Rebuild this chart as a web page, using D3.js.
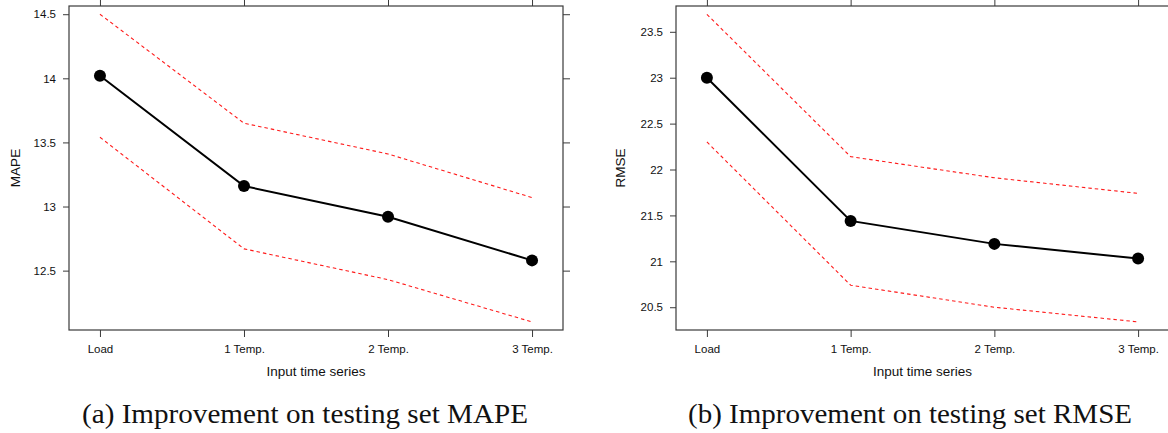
<!DOCTYPE html>
<html>
<head>
<meta charset="utf-8">
<script src="https://cdn.jsdelivr.net/npm/d3@7"></script>
<style>
	body { margin: 0; background: #fff; }
	svg { display: block; }
</style>
</head>
<body>
<div class="chart"></div>
<script>
// values
const categories = ['Load', '1 Temp.', '2 Temp.', '3 Temp.']

const mapeMean = [14.02, 13.16, 12.92, 12.58]
const mapeUpper = [14.50, 13.65, 13.41, 13.07]
const mapeLower = [13.54, 12.67, 12.43, 12.10]
const mapeTicks = [12.5, 13, 13.5, 14, 14.5]

const rmseMean = [23.00, 21.44, 21.19, 21.03]
const rmseUpper = [23.69, 22.14, 21.91, 21.74]
const rmseLower = [22.30, 20.74, 20.50, 20.34]
const rmseTicks = [20.5, 21, 21.5, 22, 22.5, 23, 23.5]

const W = 1168
const H = 433

var svg = d3.select('.chart')
	.append('svg')
	.attr('width', W)
	.attr('height', H)

function panel(opts) {
	const left = opts.left, right = opts.right
	const top = 6, bottom = 330
	const frame = '#3a3a3a'

	var g = svg.append('g')

	var x = d3.scalePoint()
		.domain(categories)
		.range([left, right])
		.padding(0.215)

	var y = d3.scaleLinear()
		.domain(opts.domain)
		.range([bottom, top])

	// ticks on every side, labels only left and bottom
	var yLeft = d3.axisLeft(y).tickValues(opts.ticks).tickSize(6).tickPadding(7).tickFormat(d3.format('~g'))
	var yRight = d3.axisRight(y).tickValues(opts.ticks).tickSize(7).tickFormat('')
	var xBottom = d3.axisBottom(x).tickSize(7).tickPadding(8)
	var xTop = d3.axisTop(x).tickSize(8).tickFormat('')

	g.append('g').attr('transform', `translate(${left},0)`).call(yLeft)
	g.append('g').attr('transform', `translate(${right},0)`).call(yRight)
	g.append('g').attr('transform', `translate(0,${bottom})`).call(xBottom)
	g.append('g').attr('transform', `translate(0,${top})`).call(xTop)

	g.selectAll('.domain').remove()
	g.selectAll('.tick line').attr('stroke', frame).attr('stroke-width', 1)
	g.selectAll('.tick text')
		.attr('font-family', 'Liberation Sans, Arial, sans-serif')
		.attr('font-size', 11.5)
		.attr('fill', '#111')

	g.append('rect')
		.attr('x', left)
		.attr('y', top)
		.attr('width', right - left)
		.attr('height', bottom - top)
		.attr('fill', 'none')
		.attr('stroke', frame)
		.attr('stroke-width', 1.2)

	var line = d3.line()
		.x((d, i) => x(categories[i]))
		.y(d => y(d))

	;[opts.upper, opts.lower].forEach(vals => {
		g.append('path')
			.datum(vals)
			.attr('d', line)
			.attr('fill', 'none')
			.attr('stroke', '#ff1a1a')
			.attr('stroke-width', 1.1)
			.attr('stroke-dasharray', '3.5,3')
			.attr('stroke-linejoin', 'round')
	})

	g.append('path')
		.datum(opts.mean)
		.attr('d', line)
		.attr('fill', 'none')
		.attr('stroke', '#000')
		.attr('stroke-width', 2)

	g.selectAll('circle.pt')
		.data(opts.mean)
		.join('circle')
		.attr('class', 'pt')
		.attr('cx', (d, i) => x(categories[i]))
		.attr('cy', d => y(d))
		.attr('r', 6)
		.attr('fill', '#000')

	// axis titles
	g.append('text')
		.attr('x', (left + right) / 2)
		.attr('y', 376)
		.attr('text-anchor', 'middle')
		.attr('font-family', 'Liberation Sans, Arial, sans-serif')
		.attr('font-size', 13.5)
		.attr('fill', '#111')
		.text('Input time series')

	g.append('text')
		.attr('transform', `translate(${opts.titleX},${(top + bottom) / 2}) rotate(-90)`)
		.attr('text-anchor', 'middle')
		.attr('font-family', 'Liberation Sans, Arial, sans-serif')
		.attr('font-size', 13.5)
		.attr('fill', '#111')
		.text(opts.ylabel)

	// sub-figure caption
	g.append('text')
		.attr('x', opts.capX)
		.attr('y', 423)
		.attr('font-family', 'Liberation Serif, Times New Roman, serif')
		.attr('font-size', 27)
		.attr('textLength', opts.capW)
		.attr('lengthAdjust', 'spacingAndGlyphs')
		.attr('fill', '#111')
		.text(opts.caption)
}

panel({
	left: 69, right: 563,
	domain: [12.037, 14.564],
	ticks: mapeTicks,
	mean: mapeMean, upper: mapeUpper, lower: mapeLower,
	ylabel: 'MAPE', titleX: 20,
	caption: '(a) Improvement on testing set MAPE', capX: 82, capW: 446
})

panel({
	left: 676, right: 1169,
	domain: [20.252, 23.781],
	ticks: rmseTicks,
	mean: rmseMean, upper: rmseUpper, lower: rmseLower,
	ylabel: 'RMSE', titleX: 625,
	caption: '(b) Improvement on testing set RMSE', capX: 688, capW: 444
})
</script>
</body>
</html>
